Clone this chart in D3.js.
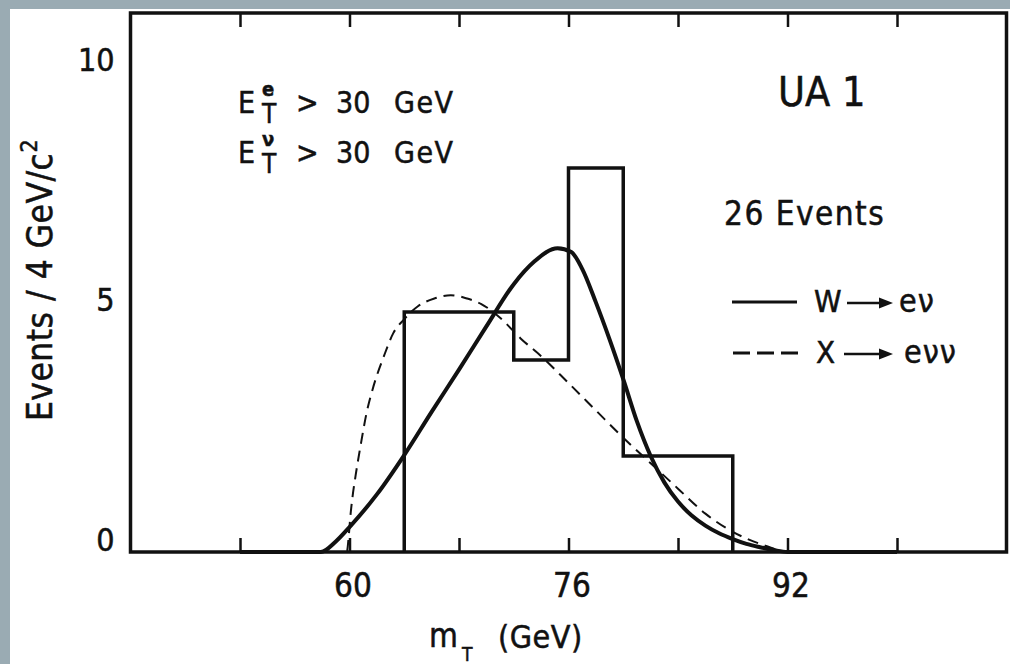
<!DOCTYPE html>
<html>
<head>
<meta charset="utf-8">
<script src="https://cdn.jsdelivr.net/npm/d3@7"></script>
<style>
  body { margin: 0; background: #9aabb3; }
  svg { display: block; }
  text { font-family: "DejaVu Sans Condensed", "DejaVu Sans", sans-serif; fill: #111; stroke: #111; stroke-width: 0.5px; }
</style>
</head>
<body>
<script>
var w = 1010;
var h = 664;

// histogram, events per 4 GeV bin
var binEdges = [64, 68, 72, 76, 80, 84, 88];
var binCounts = [5, 5, 4, 8, 2, 2];

// W -> e nu fit (solid)
var wMass = [52, 57.9, 59, 60, 62, 64, 66, 68, 70, 72, 73.5, 75.2, 76.2, 77, 78, 79, 80, 81, 82, 83, 84, 85, 86, 87, 88, 89, 90, 91, 92, 100];
var wFit  = [0, 0, 0.22, 0.52, 1.2, 2.02, 2.92, 3.8, 4.7, 5.58, 6.05, 6.33, 6.25, 5.9, 5.2, 4.43, 3.6, 2.72, 2.0, 1.45, 1.05, 0.76, 0.55, 0.39, 0.27, 0.17, 0.1, 0.04, 0, 0];

// X -> e nu nu fit (dashed)
var xMass = [52, 59.8, 59.95, 60.05, 60.2, 60.45, 60.8, 61.25, 61.75, 62.5, 63.2, 64, 65, 66.2, 67.4, 68.6, 69.6, 71, 72.5, 74, 76, 78, 80, 82, 84, 86, 88, 90, 92.2, 100];
var xFit  = [0, 0, 0.35, 0.7, 1.1, 1.6, 2.2, 2.9, 3.45, 4.07, 4.56, 4.85, 5.12, 5.28, 5.35, 5.28, 5.17, 4.88, 4.45, 4.08, 3.52, 2.95, 2.38, 1.85, 1.32, 0.8, 0.42, 0.17, 0, 0];

var xTicks = [52, 60, 68, 76, 84, 92, 100];
var xLabels = [60, 76, 92];
var yLabels = [0, 5, 10];

var font = "\"DejaVu Sans Condensed\", \"DejaVu Sans\", sans-serif";

var x = d3.scaleLinear().domain([44, 108]).range([130.5, 1006.5]);
var y = d3.scaleLinear().domain([0, 11.25]).range([552, 12]);

var svg = d3.select("body")
  .append("svg")
  .attr("width", w)
  .attr("height", h);

// white sheet
svg.append("rect")
  .attr("x", 10).attr("y", 9)
  .attr("width", w - 10).attr("height", h - 9)
  .attr("fill", "#fff");

// ticks, bottom and top, pointing inward
var xAxis = svg.append("g")
  .attr("transform", "translate(0," + y(0) + ")")
  .call(d3.axisBottom(x)
    .tickValues(xTicks)
    .tickSize(-14)
    .tickFormat(function(d) { return xLabels.indexOf(d) >= 0 ? d : ""; }));
xAxis.select(".domain").remove();
xAxis.selectAll("line").attr("stroke", "#111").attr("stroke-width", 2.5);
xAxis.selectAll("text")
  .attr("x", 3)
  .attr("y", 45).attr("dy", 0)
  .attr("font-size", 33)
  .attr("fill", "#111")
  .style("font-family", font);

var topAxis = svg.append("g")
  .attr("transform", "translate(0,13)")
  .call(d3.axisTop(x).tickValues(xTicks).tickSize(-14).tickFormat(""));
topAxis.select(".domain").remove();
topAxis.selectAll("line").attr("stroke", "#111").attr("stroke-width", 2.5);

var yAxis = svg.append("g")
  .attr("transform", "translate(130.5,0)")
  .call(d3.axisLeft(y).tickValues(yLabels).tickSize(0).tickPadding(16));
yAxis.select(".domain").remove();
yAxis.selectAll("text")
  .attr("dy", -2)
  .attr("font-size", 32)
  .attr("fill", "#111")
  .style("font-family", font);

// frame
svg.append("rect")
  .attr("x", x(44)).attr("y", 13)
  .attr("width", x(108) - x(44)).attr("height", y(0) - 13)
  .attr("fill", "none")
  .attr("stroke", "#111")
  .attr("stroke-width", 3.5);

// fit curves
var line = d3.line()
  .x(function(d) { return x(d[0]); })
  .y(function(d) { return y(d[1]); })
  .curve(d3.curveMonotoneX);

svg.append("path")
  .datum(d3.zip(xMass, xFit))
  .attr("d", line)
  .attr("fill", "none")
  .attr("stroke", "#111")
  .attr("stroke-width", 2)
  .attr("stroke-dasharray", "11,7");

svg.append("path")
  .datum(d3.zip(wMass, wFit))
  .attr("d", line)
  .attr("fill", "none")
  .attr("stroke", "#111")
  .attr("stroke-width", 4);

// histogram outline
var steps = [[binEdges[0], 0]];
binCounts.forEach(function(c, i) {
  steps.push([binEdges[i], c]);
  steps.push([binEdges[i + 1], c]);
});
steps.push([binEdges[binEdges.length - 1], 0]);

svg.append("path")
  .datum(steps)
  .attr("d", d3.line().x(function(d) { return x(d[0]); }).y(function(d) { return y(d[1]); }))
  .attr("fill", "none")
  .attr("stroke", "#111")
  .attr("stroke-width", 3.5)
  .attr("stroke-linejoin", "miter");

// axis titles
var yt = svg.append("text")
  .attr("transform", "translate(52,280) rotate(-90)")
  .attr("text-anchor", "middle")
  .attr("font-size", 35)
  .attr("letter-spacing", 0.5);
yt.append("tspan").text("Events / 4 GeV/c");
yt.append("tspan").attr("font-size", 23).attr("dy", -15).text("2");

svg.append("text").attr("x", 429).attr("y", 647).attr("font-size", 33).text("m");
svg.append("text").attr("x", 462).attr("y", 661).attr("font-size", 19).text("T");
svg.append("text").attr("x", 498).attr("y", 648).attr("font-size", 32).attr("letter-spacing", 0.5).text("(GeV)");

// cut annotations
var cuts = [["e", 113], ["ν", 163]];
cuts.forEach(function(c) {
  var b = c[1];
  svg.append("text").attr("x", 238).attr("y", b).attr("font-size", 30).text("E");
  svg.append("text").attr("x", 262).attr("y", b - 17).attr("font-size", 20).attr("font-weight", "bold").text(c[0]);
  svg.append("text").attr("x", 262).attr("y", b + 10).attr("font-size", 26).text("T");
  svg.append("text").attr("x", 296).attr("y", b).attr("font-size", 30).text(">");
  svg.append("text").attr("x", 336).attr("y", b).attr("font-size", 30).text("30");
  svg.append("text").attr("x", 394).attr("y", b).attr("font-size", 30).attr("letter-spacing", 1.5).text("GeV");
});

svg.append("text").attr("x", 778).attr("y", 106).attr("font-size", 41).text("UA 1");
svg.append("text").attr("x", 724).attr("y", 225).attr("font-size", 33).attr("letter-spacing", 1.5).text("26 Events");

// legend
function arrow(x1, x2, yy) {
  svg.append("line")
    .attr("x1", x1).attr("x2", x2 - 10)
    .attr("y1", yy).attr("y2", yy)
    .attr("stroke", "#111").attr("stroke-width", 2.5);
  svg.append("path")
    .attr("d", "M" + (x2 - 14) + "," + (yy - 5.5) + "L" + x2 + "," + yy + "L" + (x2 - 14) + "," + (yy + 5.5) + "Z")
    .attr("fill", "#111");
}

svg.append("line")
  .attr("x1", 732).attr("x2", 797).attr("y1", 302).attr("y2", 302)
  .attr("stroke", "#111").attr("stroke-width", 3);
svg.append("text").attr("x", 814).attr("y", 312).attr("font-size", 31).text("W");
arrow(847, 893, 303);
svg.append("text").attr("x", 899).attr("y", 312).attr("font-size", 32).attr("letter-spacing", 1).text("eν");

svg.append("line")
  .attr("x1", 733).attr("x2", 798).attr("y1", 353).attr("y2", 353)
  .attr("stroke", "#111").attr("stroke-width", 3)
  .attr("stroke-dasharray", "17,7");
svg.append("text").attr("x", 816).attr("y", 363).attr("font-size", 31).text("X");
arrow(844, 893, 354);
svg.append("text").attr("x", 904).attr("y", 363).attr("font-size", 32).attr("letter-spacing", 1).text("eνν");
</script>
</body>
</html>
